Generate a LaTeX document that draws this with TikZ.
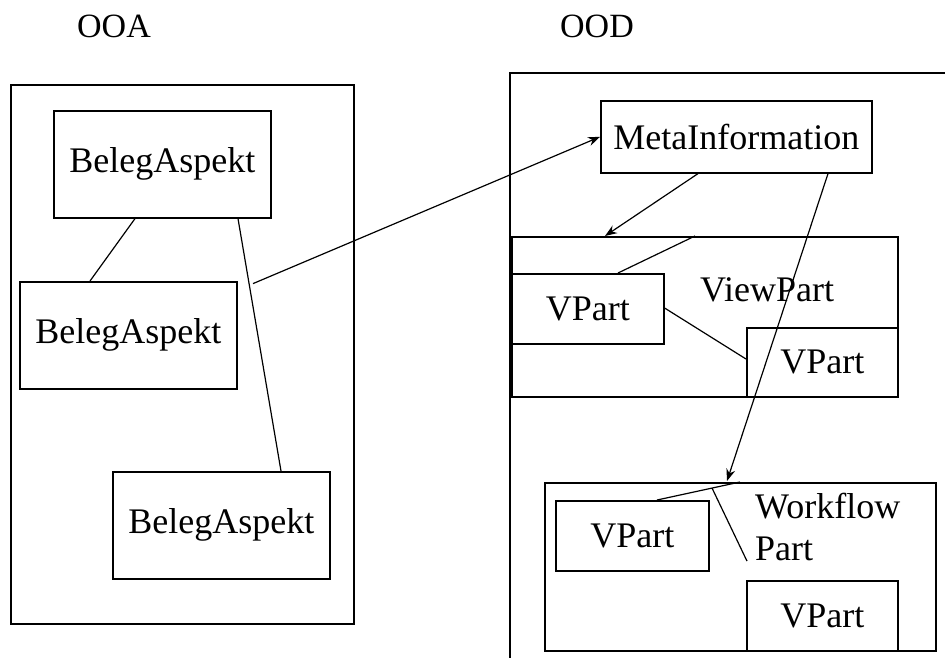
\documentclass[tikz,border=0pt]{standalone}
\usepackage{fontspec}
\setmainfont{Liberation Serif}
\usetikzlibrary{arrows.meta,calc}
\begin{document}
\begin{tikzpicture}[x=1pt,y=-1pt,
  box/.style={draw, line width=1.6pt, rectangle, inner sep=0pt, anchor=north west, font=\fontsize{36}{42}\selectfont},
  lbl/.style={inner sep=0pt, font=\fontsize{36}{42}\selectfont},
  link/.style={line width=1.2pt},
  arr/.style={line width=1.2pt, -{Stealth[length=12pt,width=9pt]}}]
\useasboundingbox[fill=white] (0,0) rectangle (945,657);
% headings
\node[lbl, font=\fontsize{34}{38}\selectfont] (ooa) at (114,26) {OOA};
\node[lbl, font=\fontsize{34}{38}\selectfont] (ood) at (597,26) {OOD};
% OOA frame
\node[box, minimum width=343pt, minimum height=539pt] (ooaframe) at (10,84) {};
\node[box, minimum width=217pt, minimum height=107pt] (ba1) at (53,110) {BelegAspekt};
\node[box, minimum width=217pt, minimum height=107pt] (ba2) at (19,281) {BelegAspekt};
\node[box, minimum width=217pt, minimum height=107pt] (ba3) at (112,471) {BelegAspekt};
\draw[link] ($(ba1.south west)+(82,0)$) -- ($(ba2.north west)+(71,0)$);
\draw[link] ($(ba1.south west)+(185,0)$) -- ($(ba3.north west)+(169,0)$);
\coordinate (src) at ($(ba1.south west)+(200,65)$);
% OOD frame (cut off at the right and bottom)
\coordinate (oodtl) at (510,73);
\draw[line width=1.6pt] (510,660) -- (oodtl) -- (950,73);
\node[box, minimum width=271pt, minimum height=72pt] (meta) at (600,100) {MetaInformation};
\draw[arr] (src) -- (meta.west);
% ViewPart
\node[box, minimum width=386pt, minimum height=160pt] (view) at (511,236) {};
\node[lbl, anchor=west] (viewlbl) at (700,290) {ViewPart};
\node[box, minimum width=152pt, minimum height=70pt] (vp1) at (511,273) {VPart};
\node[box, minimum width=151pt, minimum height=69pt] (vp2) at (746,327) {VPart};
\draw[arr] ($(meta.south west)+(98,0)$) -- ($(view.north west)+(94,0)$);
\draw[link] ($(view.north west)+(184,0)$) -- ($(vp1.north west)+(107,0)$);
\draw[link] ($(vp1.north east)+(0,35)$) -- ($(vp2.north west)+(0,32)$);
% Workflow part
\node[box, minimum width=391pt, minimum height=168pt] (wf) at (544,482) {};
\node[lbl, anchor=north west, align=left] (wflbl) at (755,493) {Workflow\\Part};
\node[box, minimum width=153pt, minimum height=70pt] (vp3) at (555,500) {VPart};
\node[box, minimum width=151pt, minimum height=70pt] (vp4) at (746,580) {VPart};
\draw[arr] ($(meta.south west)+(228,0)$) -- ($(wf.north west)+(183,-1)$);
\draw[link] ($(wf.north west)+(196,0)$) -- ($(vp3.north west)+(102,0)$);
\draw[link] ($(wf.north west)+(168,6)$) -- ($(wflbl.south west)+(-8,0)$);
\end{tikzpicture}
\end{document}
